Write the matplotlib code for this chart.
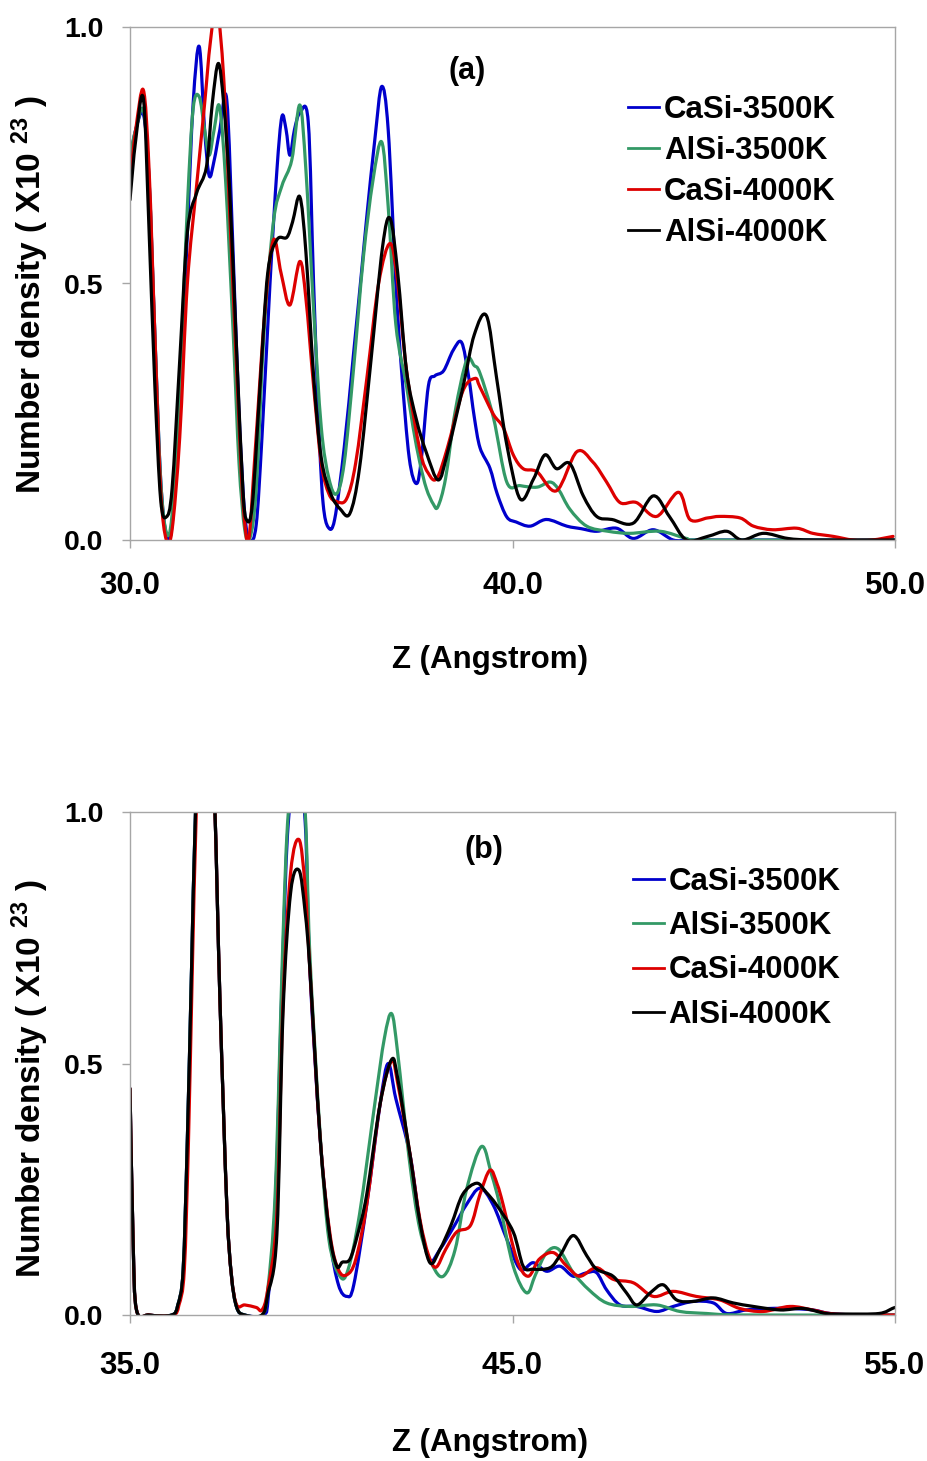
import numpy as np
import matplotlib
matplotlib.use("Agg")
import matplotlib.pyplot as plt
from matplotlib.path import Path
from matplotlib.patches import PathPatch
from matplotlib.lines import Line2D

plt.rcParams['font.family'] = ['Liberation Sans', 'DejaVu Sans']
plt.rcParams['font.weight'] = 'bold'

labels = ['CaSi-3500K', 'AlSi-3500K', 'CaSi-4000K', 'AlSi-4000K']
colors = ['#0000CC', '#339966', '#DD0000', '#000000']

# ---- panel (a) ----
za_casi35 = [30.0, 30.15, 30.35, 30.5, 30.65, 30.8, 30.95, 31.1, 31.3, 31.5, 31.65, 31.81, 31.95, 32.07,
             32.2, 32.35, 32.53, 32.7, 32.85, 33.0, 33.14, 33.3, 33.45, 33.66, 33.84, 33.97, 34.08, 34.18,
             34.3, 34.44, 34.66, 34.8, 34.95, 35.05, 35.18, 35.35, 35.6, 35.84, 36.05, 36.19, 36.4, 36.58,
             36.75, 36.95, 37.1, 37.3, 37.49, 37.62, 37.8, 37.97, 38.2, 38.45, 38.67, 38.85, 39.0, 39.15,
             39.41, 39.6, 39.85, 40.1, 40.46, 40.89, 41.42, 41.8, 42.2, 42.72, 43.16, 43.68, 44.2, 44.6,
             45.0, 46.0, 48.0, 50.0]
na_casi35 = [0.74, 0.80, 0.83, 0.70, 0.40, 0.12, 0.01, 0.03, 0.25, 0.60, 0.85, 0.962, 0.80, 0.71,
             0.74, 0.80, 0.858, 0.55, 0.25, 0.05, 0.0, 0.03, 0.20, 0.50, 0.72, 0.825, 0.80, 0.75,
             0.80, 0.832, 0.815, 0.50, 0.20, 0.07, 0.025, 0.04, 0.18, 0.36, 0.52, 0.63, 0.78, 0.884,
             0.80, 0.50, 0.33, 0.16, 0.11, 0.16, 0.30, 0.32, 0.33, 0.37, 0.385, 0.32, 0.24, 0.18,
             0.14, 0.09, 0.045, 0.035, 0.027, 0.04, 0.027, 0.022, 0.017, 0.023, 0.003, 0.02, 0.0, 0.0,
             0.0, 0.0, 0.0, 0.0]

za_alsi35 = [30.0, 30.15, 30.35, 30.5, 30.65, 30.8, 30.95, 31.1, 31.3, 31.5, 31.65, 31.81, 31.95, 32.07,
             32.2, 32.34, 32.5, 32.7, 32.85, 33.0, 33.14, 33.3, 33.5, 33.75, 33.97, 34.23, 34.44, 34.6,
             34.8, 35.0, 35.2, 35.4, 35.6, 35.84, 36.1, 36.35, 36.58, 36.75, 36.95, 37.23, 37.4, 37.58,
             37.75, 37.93, 38.05, 38.25, 38.5, 38.8, 39.0, 39.15, 39.5, 39.85, 40.2, 40.64, 40.98, 41.2,
             41.5, 41.94, 42.5, 43.07, 43.86, 44.55, 45.0, 50.0]
na_alsi35 = [0.75, 0.80, 0.838, 0.70, 0.40, 0.12, 0.015, 0.05, 0.30, 0.65, 0.84, 0.864, 0.80, 0.75,
             0.80, 0.845, 0.70, 0.40, 0.15, 0.02, 0.005, 0.10, 0.40, 0.62, 0.69, 0.741, 0.848, 0.72,
             0.45, 0.22, 0.12, 0.09, 0.15, 0.33, 0.55, 0.70, 0.776, 0.65, 0.42, 0.30, 0.22, 0.15,
             0.10, 0.07, 0.065, 0.12, 0.25, 0.35, 0.34, 0.325, 0.239, 0.113, 0.106, 0.103, 0.113, 0.099,
             0.06, 0.027, 0.017, 0.013, 0.017, 0.003, 0.0, 0.0]

za_casi40 = [30.0, 30.15, 30.35, 30.5, 30.65, 30.8, 30.95, 31.1, 31.3, 31.5, 31.74, 31.95, 32.1, 32.27,
             32.45, 32.6, 32.79, 32.95, 33.1, 33.27, 33.53, 33.75, 33.95, 34.18, 34.44, 34.6, 34.8, 35.0,
             35.2, 35.4, 35.66, 35.9, 36.2, 36.5, 36.8, 37.0, 37.23, 37.58, 37.8, 38.02, 38.3, 38.7,
             39.02, 39.15, 39.5, 39.76, 40.02, 40.28, 40.64, 41.15, 41.68, 42.1, 42.46, 42.81, 43.24, 43.77,
             44.34, 44.64, 45.1, 45.42, 45.95, 46.3, 46.8, 47.43, 47.85, 48.39, 48.9, 49.4, 49.95]
na_casi40 = [0.70, 0.80, 0.877, 0.72, 0.40, 0.10, 0.0, 0.02, 0.20, 0.50, 0.69, 0.85, 0.97, 1.04,
             0.90, 0.65, 0.33, 0.08, 0.0, 0.17, 0.45, 0.585, 0.52, 0.458, 0.543, 0.47, 0.30, 0.15,
             0.09, 0.075, 0.08, 0.15, 0.32, 0.50, 0.578, 0.50, 0.33, 0.175, 0.13, 0.12, 0.18, 0.29,
             0.315, 0.298, 0.245, 0.219, 0.166, 0.139, 0.133, 0.096, 0.172, 0.152, 0.113, 0.073, 0.073, 0.046,
             0.093, 0.04, 0.043, 0.046, 0.043, 0.027, 0.02, 0.023, 0.013, 0.007, 0.0, 0.0, 0.007]

za_alsi40 = [30.0, 30.15, 30.35, 30.5, 30.65, 30.8, 30.95, 31.1, 31.3, 31.5, 31.74, 32.0, 32.15, 32.31,
             32.45, 32.6, 32.79, 32.95, 33.05, 33.2, 33.4, 33.6, 33.84, 34.1, 34.25, 34.44, 34.6, 34.8,
             35.0, 35.25, 35.5, 35.75, 36.0, 36.3, 36.6, 36.8, 37.0, 37.23, 37.49, 37.75, 38.06, 38.3,
             38.71, 39.0, 39.32, 39.58, 39.85, 40.2, 40.55, 40.85, 41.15, 41.5, 41.85, 42.2, 42.6, 43.16,
             43.68, 44.1, 44.55, 45.1, 45.6, 46.0, 46.56, 47.2, 47.9, 50.0]
na_alsi40 = [0.663, 0.78, 0.86, 0.60, 0.30, 0.08, 0.045, 0.10, 0.35, 0.60, 0.676, 0.728, 0.85, 0.929,
             0.85, 0.69, 0.364, 0.10, 0.039, 0.07, 0.30, 0.52, 0.585, 0.59, 0.62, 0.669, 0.56, 0.32,
             0.16, 0.09, 0.06, 0.052, 0.14, 0.35, 0.57, 0.627, 0.52, 0.33, 0.234, 0.17, 0.117, 0.17,
             0.30, 0.40, 0.437, 0.318, 0.186, 0.08, 0.119, 0.166, 0.139, 0.149, 0.086, 0.046, 0.04, 0.033,
             0.086, 0.046, 0.0, 0.007, 0.017, 0.0, 0.013, 0.003, 0.0, 0.0]

# ---- panel (b) ----
zb_casi35 = [35.0, 35.08, 35.17, 35.5, 36.09, 36.25, 36.39, 36.5, 36.61, 36.72, 36.95, 37.2, 37.35, 37.53,
             37.65, 37.79, 38.0, 38.5, 38.62, 38.8, 39.0, 39.14, 39.37, 39.58, 39.7, 39.97, 40.23, 40.45,
             40.67, 40.85, 41.19, 41.54, 41.75, 41.95, 42.32, 42.58, 42.84, 43.1, 43.5, 43.8, 44.15, 44.5,
             44.85, 45.2, 45.54, 45.89, 46.24, 46.59, 46.94, 47.2, 47.46, 47.81, 48.25, 48.77, 49.2, 49.73,
             50.25, 50.6, 51.1, 51.72, 52.25, 52.85, 53.3, 54.0, 55.0]
nb_casi35 = [0.45, 0.15, 0.01, 0.0, 0.0, 0.02, 0.09, 0.35, 0.69, 1.02, 1.5, 1.05, 0.63, 0.22,
             0.08, 0.015, 0.0, 0.0, 0.04, 0.22, 0.72, 0.98, 1.1, 0.98, 0.69, 0.353, 0.151, 0.06,
             0.037, 0.06, 0.22, 0.42, 0.50, 0.43, 0.319, 0.185, 0.11, 0.13, 0.18, 0.22, 0.252, 0.218,
             0.151, 0.091, 0.104, 0.087, 0.097, 0.077, 0.084, 0.084, 0.05, 0.02, 0.017, 0.007, 0.017, 0.027,
             0.024, 0.003, 0.01, 0.013, 0.013, 0.01, 0.003, 0.0, 0.0]

zb_alsi35 = [35.0, 35.08, 35.17, 35.5, 36.09, 36.25, 36.39, 36.5, 36.61, 36.72, 36.95, 37.2, 37.35, 37.53,
             37.65, 37.79, 38.0, 38.45, 38.6, 38.8, 39.0, 39.14, 39.37, 39.58, 39.7, 39.97, 40.2, 40.49,
             40.7, 41.0, 41.4, 41.65, 41.84, 42.0, 42.3, 42.58, 42.9, 43.19, 43.5, 43.8, 44.19, 44.45,
             44.67, 45.02, 45.37, 45.6, 45.89, 46.2, 46.59, 47.0, 47.46, 48.07, 48.77, 49.38, 50.08, 51.0,
             55.0]
nb_alsi35 = [0.45, 0.15, 0.01, 0.0, 0.0, 0.02, 0.09, 0.35, 0.69, 1.02, 1.5, 1.05, 0.63, 0.22,
             0.08, 0.015, 0.0, 0.0, 0.05, 0.25, 0.75, 1.0, 1.12, 1.0, 0.72, 0.36, 0.15, 0.077,
             0.09, 0.2, 0.42, 0.55, 0.599, 0.52, 0.31, 0.17, 0.10, 0.077, 0.13, 0.25, 0.335, 0.28,
             0.218, 0.097, 0.044, 0.08, 0.124, 0.131, 0.084, 0.05, 0.024, 0.017, 0.02, 0.007, 0.003, 0.0,
             0.0]

zb_casi40 = [35.0, 35.08, 35.17, 35.5, 36.12, 36.28, 36.42, 36.53, 36.63, 36.74, 36.95, 37.2, 37.35, 37.53,
             37.65, 37.79, 38.0, 38.3, 38.45, 38.6, 38.84, 39.0, 39.2, 39.42, 39.58, 39.7, 39.97, 40.23,
             40.45, 40.67, 40.9, 41.19, 41.54, 41.84, 42.0, 42.32, 42.58, 42.8, 43.0, 43.25, 43.54, 43.9,
             44.15, 44.41, 44.6, 44.76, 45.11, 45.41, 45.7, 46.07, 46.42, 46.76, 47.2, 47.63, 48.16, 48.68,
             49.2, 49.8, 50.42, 50.94, 51.55, 52.25, 52.85, 53.3, 54.0, 55.0]
nb_casi40 = [0.45, 0.15, 0.01, 0.0, 0.0, 0.02, 0.09, 0.35, 0.69, 1.02, 1.5, 1.05, 0.63, 0.22,
             0.08, 0.02, 0.02, 0.015, 0.01, 0.05, 0.2, 0.62, 0.88, 0.945, 0.85, 0.69, 0.353, 0.16,
             0.09, 0.08, 0.11, 0.22, 0.42, 0.505, 0.46, 0.32, 0.19, 0.12, 0.095, 0.13, 0.165, 0.178,
             0.24, 0.288, 0.26, 0.218, 0.111, 0.077, 0.111, 0.124, 0.097, 0.077, 0.094, 0.071, 0.064, 0.037,
             0.047, 0.037, 0.03, 0.013, 0.007, 0.017, 0.01, 0.003, 0.0, 0.0]

zb_alsi40 = [35.0, 35.08, 35.17, 35.5, 36.09, 36.25, 36.39, 36.5, 36.61, 36.72, 36.95, 37.2, 37.35, 37.53,
             37.65, 37.79, 38.0, 38.45, 38.6, 38.84, 39.0, 39.2, 39.42, 39.58, 39.7, 39.97, 40.2, 40.4,
             40.55, 40.75, 40.95, 41.19, 41.54, 41.84, 42.0, 42.32, 42.58, 42.84, 43.1, 43.4, 43.7, 44.06,
             44.3, 44.59, 45.02, 45.28, 45.54, 45.98, 46.24, 46.59, 46.94, 47.2, 47.63, 47.98, 48.25, 48.6,
             48.94, 49.29, 49.73, 50.25, 50.77, 51.3, 52.0, 52.6, 53.2, 53.7, 54.58, 54.93, 55.0]
nb_alsi40 = [0.45, 0.15, 0.01, 0.0, 0.0, 0.02, 0.09, 0.35, 0.69, 1.02, 1.5, 1.05, 0.63, 0.22,
             0.08, 0.015, 0.0, 0.0, 0.04, 0.16, 0.6, 0.84, 0.884, 0.8, 0.69, 0.353, 0.17, 0.098,
             0.105, 0.111, 0.16, 0.24, 0.42, 0.508, 0.47, 0.319, 0.185, 0.104, 0.13, 0.18, 0.24, 0.262,
             0.245, 0.218, 0.165, 0.097, 0.091, 0.094, 0.118, 0.158, 0.118, 0.091, 0.077, 0.044, 0.02, 0.044,
             0.06, 0.03, 0.027, 0.034, 0.024, 0.017, 0.01, 0.013, 0.003, 0.002, 0.003, 0.013, 0.015]

panels = [
    dict(tag='(a)', xlim=(30, 50), xticks=[30, 40, 50],
         series=[(za_casi35, na_casi35), (za_alsi35, na_alsi35), (za_casi40, na_casi40), (za_alsi40, na_alsi40)],
         rect=[130, 27, 895, 540], tagpos=(0.441, 0.915), legpos=(0.651, 0.868), spacing=0.35,
         ylab_y=0.478, xpad=16.5, xlab_off=120),
    dict(tag='(b)', xlim=(35, 55), xticks=[35, 45, 55],
         series=[(zb_casi35, nb_casi35), (zb_alsi35, nb_alsi35), (zb_casi40, nb_casi40), (zb_alsi40, nb_alsi40)],
         rect=[130, 812, 895, 1315], tagpos=(0.463, 0.925), legpos=(0.657, 0.89), spacing=0.45,
         ylab_y=0.469, xpad=20, xlab_off=128),
]


def smooth_line(ax, x, y, color, lw):
    # smoothed line (Catmull-Rom through the points, as Bezier segments)
    pts = np.column_stack([x, y]).astype(float)
    n = len(pts)
    verts = [pts[0]]
    codes = [Path.MOVETO]
    for i in range(n - 1):
        p0 = pts[i - 1] if i > 0 else pts[i]
        p1, p2 = pts[i], pts[i + 1]
        p3 = pts[i + 2] if i + 2 < n else pts[i + 1]
        verts += [p1 + (p2 - p0) / 6.0, p2 - (p3 - p1) / 6.0, p2]
        codes += [Path.CURVE4] * 3
    ax.add_patch(PathPatch(Path(verts, codes), facecolor='none', edgecolor=color,
                           lw=lw, joinstyle='round', capstyle='round'))


W, H = 928, 1461
fig = plt.figure(figsize=(W / 100, H / 100), dpi=100)
grey = '#A6A6A6'

for p in panels:
    x0, y0, x1, y1 = p['rect']
    ax = fig.add_axes([x0 / W, 1 - y1 / H, (x1 - x0) / W, (y1 - y0) / H])
    for (z, n), c in zip(p['series'], colors):
        smooth_line(ax, z, n, c, 2.3)
    ax.set_xlim(*p['xlim'])
    ax.set_ylim(0, 1.0)
    ax.set_xticks(p['xticks'])
    ax.set_yticks([0, 0.5, 1.0])
    ax.xaxis.set_major_formatter(matplotlib.ticker.FormatStrFormatter('%.1f'))
    ax.yaxis.set_major_formatter(matplotlib.ticker.FormatStrFormatter('%.1f'))
    ax.tick_params(axis='x', length=6, width=1, color=grey, labelsize=22.5, pad=p['xpad'])
    ax.tick_params(axis='y', length=6, width=1, color=grey, labelsize=20.5, pad=13)
    for s in ax.spines.values():
        s.set_color(grey)
        s.set_linewidth(1)
    ax.set_xlabel('Z (Angstrom)', fontsize=22.5, fontweight='bold')
    ax.set_ylabel(r'Number density ( X10 $\mathregular{^{23}}$ )', fontsize=24, fontweight='bold')
    ax.xaxis.set_label_coords((490 - x0) / (x1 - x0), -(p['xlab_off'] - 15) / (y1 - y0))
    ax.yaxis.set_label_coords(-79 / (x1 - x0), p['ylab_y'])
    ax.text(p['tagpos'][0], p['tagpos'][1], p['tag'], transform=ax.transAxes,
            fontsize=22, fontweight='bold', ha='center', va='center')
    handles = [Line2D([], [], color=c, lw=2) for c in colors]
    ax.legend(handles, labels, loc='upper left', bbox_to_anchor=p['legpos'], frameon=False,
              fontsize=22.5, handlelength=1.0, handletextpad=0.15,
              labelspacing=p['spacing'], borderaxespad=0, borderpad=0)

fig.savefig('out.png', dpi=100)
